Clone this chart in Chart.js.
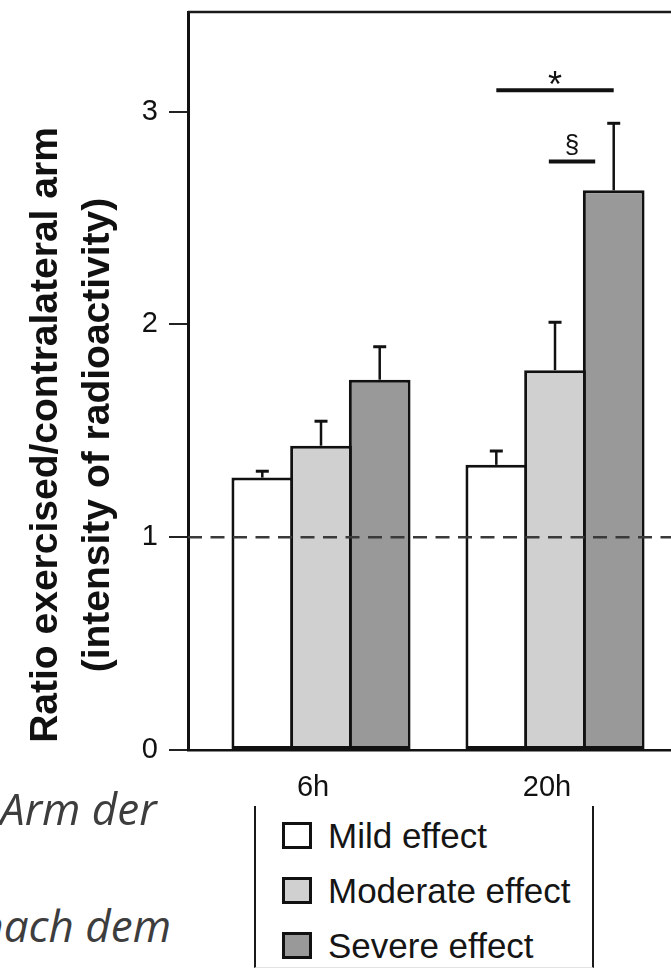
<!DOCTYPE html>
<html lang="en">
<head>
<meta charset="utf-8">
<title>Ratio exercised/contralateral arm</title>
<script src="https://cdn.jsdelivr.net/npm/chart.js@4.4.1/dist/chart.umd.min.js"></script>
<style>
  html, body { margin: 0; padding: 0; background: #fff; }
  body { width: 671px; height: 970px; overflow: hidden; position: relative; }
  #plot { position: absolute; left: 0; top: 0; width: 780px; height: 800px; }
  .y-title {
    position: absolute; left: -280.5px; top: 383px; width: 700px; height: 104px;
    transform: rotate(-90deg);
    font: bold 39px "Liberation Sans", Arial, sans-serif; line-height: 52px;
    color: #111; text-align: center; white-space: nowrap;
  }
  .note {
    position: absolute; font-family: "Open Sans", sans-serif; font-style: italic;
    font-size: 44px; line-height: 44px; color: #3d3d3d; white-space: nowrap;
  }
  #legend {
    position: absolute; left: 254px; top: 806px; width: 336px; height: 161px;
    border-left: 2px solid #1a1a1a; border-right: 2px solid #1a1a1a;
    border-bottom: 1px solid #e2e2e2;
  }
  .lg-row {
    position: absolute; left: 282px; height: 35px;
    font: 35px "Liberation Sans", Arial, sans-serif; line-height: 35px; color: #151515;
    white-space: nowrap;
  }
  .lg-box {
    position: absolute; left: 0; top: 4px; width: 30px; height: 27px;
    box-sizing: border-box; border: 3px solid #111;
  }
  .lg-text { position: absolute; left: 46px; top: 0; }
</style>
</head>
<body>
<div id="plot"><canvas id="chart"></canvas></div>
<div class="y-title">Ratio exercised/contralateral arm<br>(intensity of radioactivity)</div>
<div class="note" style="left:0; top:786px;">Arm der</div>
<div class="note" style="right:500px; top:903px;">nach dem</div>
<div id="legend"></div>

<script>
// Time points after exercise
const timepoints = ['6h', '20h'];

// Group names
const seriesNames = ['Mild effect', 'Moderate effect', 'Severe effect'];

// Mean ratio and error (upper whisker) per group
const mildMean = [1.28, 1.34];
const mildErr = [0.03, 0.065];
const moderateMean = [1.43, 1.785];
const moderateErr = [0.115, 0.225];
const severeMean = [1.74, 2.63];
const severeErr = [0.155, 0.315];

// Y axis ticks and reference ratio (no difference between arms)
const yTicks = [0, 1, 2, 3];
const referenceRatio = 1;

// Significance brackets at 20h
const sigLabels = ['*', '§'];
const sigLevels = [3.10, 2.765];
const sigFrom = [0, 1];
const sigTo = [2, 2];

const FONT = '"Liberation Sans", Arial, sans-serif';
const INK = '#111';

const fills = ['#ffffff', '#d0d0d0', '#999999'];
const means = [mildMean, moderateMean, severeMean];
const errs = [mildErr, moderateErr, severeErr];

const datasets = seriesNames.map((name, s) => ({
  label: name,
  data: timepoints.map((t, i) => ({ x: i, y: means[s][i] })),
  errors: errs[s],
  backgroundColor: fills[s],
  borderColor: INK,
  borderWidth: 3,
  borderSkipped: false,
  categoryPercentage: 0.7526,
  barPercentage: 1.051
}));

// Dashed horizontal reference line
const refLine = {
  id: 'refLine',
  afterDatasetsDraw(chart) {
    const { ctx, chartArea, scales: { y } } = chart;
    const py = y.getPixelForValue(referenceRatio);
    ctx.save();
    ctx.strokeStyle = '#3a3a3a';
    ctx.lineWidth = 2.5;
    ctx.setLineDash([14, 8.5]);
    ctx.beginPath();
    ctx.moveTo(chartArea.left, py);
    ctx.lineTo(chartArea.right, py);
    ctx.stroke();
    ctx.restore();
  }
};

// Upper error whiskers
const errorBars = {
  id: 'errorBars',
  afterDatasetsDraw(chart) {
    const { ctx, scales: { y } } = chart;
    ctx.save();
    ctx.strokeStyle = INK;
    chart.data.datasets.forEach((ds, di) => {
      const meta = chart.getDatasetMeta(di);
      meta.data.forEach((bar, i) => {
        const top = y.getPixelForValue(ds.data[i].y + ds.errors[i]);
        ctx.lineWidth = 2.5;
        ctx.beginPath();
        ctx.moveTo(bar.x, bar.y);
        ctx.lineTo(bar.x, top);
        ctx.stroke();
        ctx.lineWidth = 3;
        ctx.beginPath();
        ctx.moveTo(bar.x - 6.5, top);
        ctx.lineTo(bar.x + 6.5, top);
        ctx.stroke();
      });
    });
    ctx.restore();
  }
};

// Significance lines with their symbols
const sigMarks = {
  id: 'sigMarks',
  afterDatasetsDraw(chart, args, opts) {
    const { ctx, scales: { y } } = chart;
    ctx.save();
    ctx.fillStyle = INK;
    ctx.strokeStyle = INK;
    ctx.textAlign = 'center';
    ctx.textBaseline = 'alphabetic';
    sigLabels.forEach((label, k) => {
      const st = opts.styles[k];
      const a = chart.getDatasetMeta(sigFrom[k]).data[opts.group];
      const b = chart.getDatasetMeta(sigTo[k]).data[opts.group];
      const x0 = a.x + st.shift0 * a.width;
      const x1 = b.x + st.shift1 * b.width;
      const py = y.getPixelForValue(sigLevels[k]);
      ctx.lineWidth = 4;
      ctx.beginPath();
      ctx.moveTo(x0, py);
      ctx.lineTo(x1, py);
      ctx.stroke();
      ctx.font = st.size + 'px ' + FONT;
      ctx.fillText(label, (x0 + x1) / 2, py + st.dy);
    });
    ctx.restore();
  }
};

// Frame along the top (and right) of the plot area
const frame = {
  id: 'frame',
  afterDraw(chart) {
    const { ctx, chartArea: a } = chart;
    ctx.save();
    ctx.strokeStyle = '#1a1a1a';
    ctx.lineWidth = 2.5;
    ctx.beginPath();
    ctx.moveTo(a.left, a.top);
    ctx.lineTo(a.right, a.top);
    ctx.lineTo(a.right, a.bottom);
    ctx.stroke();
    ctx.restore();
  }
};

const chart = new Chart(document.getElementById('chart'), {
  type: 'bar',
  data: { datasets },
  options: {
    responsive: true,
    maintainAspectRatio: false,
    animation: false,
    devicePixelRatio: 1,
    layout: { padding: { left: 0, top: 12, right: 20, bottom: 0 } },
    plugins: {
      legend: { display: false },
      tooltip: { enabled: false },
      sigMarks: {
        group: 1,
        styles: [
          { shift0: 0, shift1: 0, size: 36, dy: 7 },
          { shift0: -0.1, shift1: -0.3, size: 26, dy: -9 }
        ]
      }
    },
    scales: {
      x: {
        type: 'linear',
        min: -0.5684,
        max: 1.876,
        offset: false,
        afterBuildTicks: s => { s.ticks = timepoints.map((t, i) => ({ value: i })); },
        afterFit: s => { s.height = 50; s.paddingLeft = 0; s.paddingRight = 0; },
        grid: { display: false, offset: false },
        border: { display: true, color: INK, width: 2.5 },
        ticks: {
          callback: (v, i) => timepoints[i],
          font: { family: FONT, size: 29 },
          color: INK,
          padding: 13,
          labelOffset: -8,
          maxRotation: 0,
          autoSkip: false
        }
      },
      y: {
        min: 0,
        max: 3.468,
        afterBuildTicks: s => { s.ticks = yTicks.map(v => ({ value: v })); },
        afterFit: s => { s.width = 188; s.paddingTop = 0; s.paddingBottom = 0; },
        grid: { drawOnChartArea: false, drawTicks: true, tickLength: 19, color: '#222', lineWidth: 2 },
        border: { display: true, color: INK, width: 3 },
        ticks: {
          font: { family: FONT, size: 29 },
          color: INK,
          padding: 11
        }
      }
    }
  },
  plugins: [refLine, errorBars, sigMarks, frame]
});

// Legend built from the chart's datasets
chart.data.datasets.forEach((ds, i) => {
  const row = document.createElement('div');
  row.className = 'lg-row';
  row.style.top = (818 + 55 * i) + 'px';
  const box = document.createElement('span');
  box.className = 'lg-box';
  box.style.background = ds.backgroundColor;
  const txt = document.createElement('span');
  txt.className = 'lg-text';
  txt.textContent = ds.label;
  row.appendChild(box);
  row.appendChild(txt);
  document.body.appendChild(row);
});
</script>
</body>
</html>
